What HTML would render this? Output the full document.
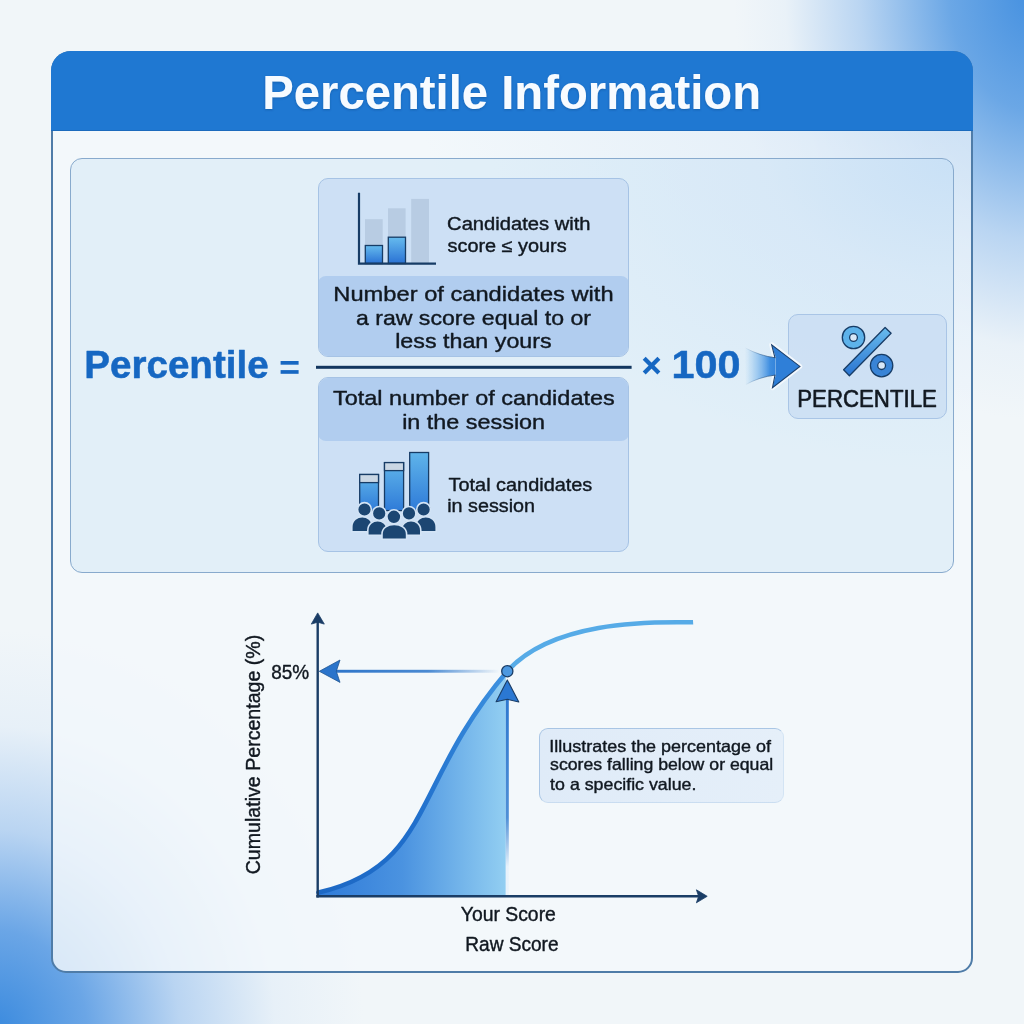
<!DOCTYPE html>
<html>
<head>
<meta charset="utf-8">
<style>
*{margin:0;padding:0;box-sizing:border-box}
html,body{width:1024px;height:1024px;overflow:hidden}
body{
  position:relative;
  font-family:"Liberation Sans",sans-serif;
  color:#121820;
  background:
    radial-gradient(ellipse 300px 430px at 1034px -10px, rgba(68,144,224,1) 0%, rgba(88,156,227,0.88) 28%, rgba(140,186,236,0.55) 58%, rgba(205,225,245,0.22) 83%, rgba(242,246,249,0) 100%),
    radial-gradient(ellipse 370px 400px at -6px 1030px, rgba(58,138,222,1) 0%, rgba(92,157,228,0.9) 25%, rgba(148,190,237,0.6) 50%, rgba(205,225,245,0.28) 76%, rgba(242,246,249,0) 100%),
    #f1f6f9;
}
.abs{position:absolute}
.card{left:51px;top:51px;width:922px;height:922px;border:2px solid #4f7ca8;border-radius:20px 20px 15px 15px;
  background:radial-gradient(ellipse 560px 420px at 100% 0%, rgba(180,210,240,0.55) 0%, rgba(200,222,244,0.3) 45%, rgba(243,248,251,0) 100%), rgba(243,248,251,0.82);overflow:hidden}
.hdr{left:51px;top:51px;width:922px;height:80px;background:#1f78d2;border-radius:20px 20px 0 0;border-bottom:1px solid #1b6bbd}
.title{left:0;top:0;width:100%;height:80px;text-align:center;color:#f7fbff;font-weight:700;font-size:47px;line-height:80px;
  text-shadow:0 1px 2px rgba(0,30,80,0.25)}
.inner{left:70px;top:157.5px;width:884px;height:415px;border:1.6px solid #88aacd;border-radius:12px;background:radial-gradient(ellipse 460px 300px at 100% 0%, rgba(200,224,246,0.95) 0%, rgba(210,229,247,0.6) 40%, rgba(222,237,247,0) 100%), rgba(222,237,247,0.85)}
.colbox{border:1px solid #a6c3e5;border-radius:10px;background:#cde0f5;overflow:hidden}
.band{background:#b1cdef;border-radius:8px}
.t{position:absolute;white-space:nowrap}
</style>
</head>
<body>
<div class="abs card">
  
</div>
<div class="abs hdr"></div>
<div class="abs inner"></div>

<!-- numerator box -->
<div class="abs colbox" style="left:318px;top:178px;width:311px;height:179px">
  <div class="abs band" style="left:-1px;top:97px;width:311px;height:81px"></div>
</div>
<!-- denominator box -->
<div class="abs colbox" style="left:318px;top:377px;width:311px;height:175px">
  <div class="abs band" style="left:-1px;top:-1px;width:311px;height:64px"></div>
</div>


<div class="abs" style="left:788px;top:314px;width:159px;height:105px;border:1px solid #a9c5e6;border-radius:10px;background:rgba(200,220,243,0.75)"></div>
<div class="abs" style="left:539px;top:727.5px;width:245px;height:75px;border:1px solid rgba(150,185,222,0.75);border-right-color:rgba(200,220,240,0.5);border-bottom-color:rgba(185,210,236,0.6);border-radius:9px;background:linear-gradient(90deg,#dfebf8,#e5eff9)"></div>
<svg class="abs" style="left:0;top:0;will-change:transform" width="1024" height="1024" viewBox="0 0 1024 1024">
<defs>
  <filter id="tsh" x="-5%" y="-20%" width="110%" height="150%"><feDropShadow dx="0" dy="1" stdDeviation="1" flood-color="#0a2a5a" flood-opacity="0.3"/></filter>
  <linearGradient id="gBar" x1="0" y1="0" x2="0" y2="1">
    <stop offset="0" stop-color="#66bbee"/><stop offset="1" stop-color="#2a72d4"/>
  </linearGradient>
  <linearGradient id="gBar2" x1="0" y1="0" x2="0" y2="1">
    <stop offset="0" stop-color="#5fb4ea"/><stop offset="1" stop-color="#2f7bd8"/>
  </linearGradient>
  <linearGradient id="gCurve" x1="318" y1="0" x2="507" y2="0" gradientUnits="userSpaceOnUse">
    <stop offset="0" stop-color="#1d68c4"/><stop offset="0.5" stop-color="#1f6ecb"/><stop offset="1" stop-color="#3e92e0"/>
  </linearGradient>
  <linearGradient id="gFill" x1="318" y1="0" x2="507" y2="0" gradientUnits="userSpaceOnUse">
    <stop offset="0" stop-color="#2f7bd9"/><stop offset="0.45" stop-color="#4b93e0"/><stop offset="1" stop-color="#93cff2"/>
  </linearGradient>
  <linearGradient id="gHArrow" x1="320" y1="0" x2="500" y2="0" gradientUnits="userSpaceOnUse">
    <stop offset="0" stop-color="#2a72c8"/><stop offset="0.6" stop-color="#4a8ad2"/><stop offset="1" stop-color="#4a8ad2" stop-opacity="0"/>
  </linearGradient>
  <linearGradient id="gVArrow" x1="0" y1="700" x2="0" y2="896" gradientUnits="userSpaceOnUse">
    <stop offset="0" stop-color="#2f78cf"/><stop offset="0.6" stop-color="#4f8fd6"/><stop offset="0.85" stop-color="#e8f2fb"/>
  </linearGradient>
  <linearGradient id="gBigArrow" x1="745" y1="0" x2="778" y2="0" gradientUnits="userSpaceOnUse">
    <stop offset="0" stop-color="#8cc4f0" stop-opacity="0"/><stop offset="0.35" stop-color="#7ab6ec" stop-opacity="0.6"/><stop offset="0.75" stop-color="#3f8ee0"/><stop offset="1" stop-color="#2f7fd8"/>
  </linearGradient>
  <linearGradient id="gBigArrowEdge" x1="745" y1="0" x2="778" y2="0" gradientUnits="userSpaceOnUse">
    <stop offset="0" stop-color="#1f4a7a" stop-opacity="0"/><stop offset="1" stop-color="#1f4a7a"/>
  </linearGradient>
  <linearGradient id="gSlash" x1="0" y1="330" x2="0" y2="373" gradientUnits="userSpaceOnUse">
    <stop offset="0" stop-color="#66b8ec"/><stop offset="1" stop-color="#2d78d2"/>
  </linearGradient>
</defs>

<!-- top bar chart icon -->
<g>
  <rect x="365" y="219.2" width="17.7" height="44" fill="#b8cce3"/>
  <rect x="388" y="208.3" width="17.6" height="55" fill="#b8cce3"/>
  <rect x="411.2" y="198.9" width="17.8" height="64.5" fill="#b8cce3"/>
  <rect x="365.3" y="245.5" width="17.2" height="18" fill="url(#gBar)" stroke="#173c66" stroke-width="1.3"/>
  <rect x="388.3" y="237.2" width="17.2" height="26.3" fill="url(#gBar)" stroke="#173c66" stroke-width="1.3"/>
  <polyline points="359,192.7 359,263.6 436,263.6" fill="none" stroke="#173c66" stroke-width="2.2"/>
</g>

<!-- bottom bars + people icon -->
<g stroke="#173c66" stroke-width="1.3">
  <rect x="359.7" y="474.5" width="18.8" height="36" fill="url(#gBar2)"/>
  <rect x="359.7" y="474.5" width="18.8" height="8.1" fill="#cad7e4"/>
  <rect x="384.5" y="462.6" width="19.1" height="48" fill="url(#gBar2)"/>
  <rect x="384.5" y="462.6" width="19.1" height="8" fill="#cad7e4"/>
  <rect x="409.7" y="452.5" width="18.9" height="58" fill="url(#gBar2)"/>
</g>
<g fill="#1c4672" stroke="#d3e4f6" stroke-width="1.6">
  <path d="M351.8,531.8 L351.8,527 C351.8,520 357.5,516.6 362.3,516.6 C367.1,516.6 372.6,520 372.6,527 L372.6,531.8 Z"/>
  <circle cx="364.5" cy="509.5" r="6.9"/>
  <path d="M415.4,531.8 L415.4,527 C415.4,520 420.9,516.6 425.7,516.6 C430.5,516.6 436.2,520 436.2,527 L436.2,531.8 Z"/>
  <circle cx="423.6" cy="509.5" r="6.9"/>
  <path d="M367.8,535.2 L367.8,530.5 C367.8,523.8 373,520.6 377.6,520.6 C382.2,520.6 387.4,523.8 387.4,530.5 L387.4,535.2 Z"/>
  <circle cx="379.2" cy="513.4" r="6.9"/>
  <path d="M401.2,535.2 L401.2,530.5 C401.2,523.8 406.4,520.6 411,520.6 C415.6,520.6 420.8,523.8 420.8,530.5 L420.8,535.2 Z"/>
  <circle cx="409" cy="513.4" r="6.9"/>
  <path d="M382,539.2 L382,534 C382,527.5 388,524.5 394.2,524.5 C400.4,524.5 406.6,527.5 406.6,534 L406.6,539.2 Z"/>
  <circle cx="393.9" cy="516.8" r="7.0"/>
</g>

<!-- fraction line -->
<rect x="316" y="365.8" width="315.6" height="3" fill="#12365f"/>

<!-- big arrow -->
<g>
  <path d="M775,357.8 L771.7,344.8 L799.9,366.4 L772.5,387.7 L775,375" fill="none" stroke="#f3f8fd" stroke-width="5" stroke-linejoin="round"/>
  <path d="M744.6,347.6 Q760,356 775.5,357.8 L775.5,375 Q759,377 745.6,384.7 Z" fill="url(#gBigArrow)"/>
  <path d="M744.6,347.6 Q760,356 775.5,357.8 M775.5,375 Q759,377 745.6,384.7" fill="none" stroke="url(#gBigArrowEdge)" stroke-width="0.9"/>
  <path d="M775.8,357.8 L771.7,344.8 L799.9,366.4 L772.5,387.7 L775.8,375 Z" fill="#2f7fd8"/>
  <path d="M775,357.8 L771.7,344.8 L799.9,366.4 L772.5,387.7 L775,375" fill="none" stroke="#1b3f6b" stroke-width="1.1" stroke-linejoin="miter"/>
</g>

<!-- percent icon -->
<g stroke="#173c66" stroke-width="1.3">
  <circle cx="853.5" cy="337.5" r="11.2" fill="#5db2ea"/>
  <circle cx="853.5" cy="337.5" r="3.9" fill="#d8e7f7"/>
  <path d="M843.6,369.7 L885.1,327.5 L891.1,333.3 L849.4,375.7 Z" fill="url(#gSlash)" stroke-linejoin="round"/>
  <circle cx="881.6" cy="365.6" r="11.2" fill="#3984d6"/>
  <circle cx="881.6" cy="365.6" r="3.9" fill="#d8e7f7"/>
</g>

<!-- chart -->
<path d="M318.5,892.6 C433.3,865.8 410.9,784.3 507.3,671.2 L505.8,671.2 L505.8,896 L318,896 Z" fill="url(#gFill)"/>
<rect x="505.8" y="700" width="3" height="196" fill="url(#gVArrow)"/>
<path d="M318.5,892.6 C433.3,865.8 410.9,784.3 507.3,671.2" fill="none" stroke="url(#gCurve)" stroke-width="4.6" stroke-linecap="round"/>
<path d="M507.3,671.2 C557.8,614.3 676.0,623.2 693.1,622.2" fill="none" stroke="#56abe7" stroke-width="4.5"/>
<!-- axes -->
<line x1="317.7" y1="620" x2="317.7" y2="897.5" stroke="#1a3d66" stroke-width="2.4"/>
<path d="M317.7,612.9 L324.3,624.1 L317.7,622.2 L311.3,624.1 Z" fill="#1a3d66" stroke="#1a3d66" stroke-width="0.8" stroke-linejoin="round"/>
<line x1="316.3" y1="896.3" x2="700" y2="896.3" stroke="#1a3d66" stroke-width="2.5"/>
<path d="M707.2,896.3 L696.4,889.8 L698.6,896.3 L696.4,902.8 Z" fill="#1a3d66" stroke="#1a3d66" stroke-width="0.8" stroke-linejoin="round"/>
<!-- horizontal arrow -->
<rect x="334" y="669.8" width="168" height="2.9" fill="url(#gHArrow)"/>
<path d="M319.3,671.3 L340,660 L336.3,671.3 L340,682.4 Z" fill="#2a74cb" stroke="#1f5592" stroke-width="0.8" stroke-linejoin="round"/>
<!-- vertical arrowhead -->
<path d="M507.3,679.9 L518.8,702 L507.3,699.3 L496.1,701.8 Z" fill="#2b78d2" stroke="#1a3d66" stroke-width="1.1" stroke-linejoin="round"/>
<!-- point -->
<circle cx="507.3" cy="671.2" r="5.6" fill="#4c98e0" stroke="#1a3d66" stroke-width="1.3"/>

<path d="M644.2,358.3 L658.9,373 M658.9,358.3 L644.2,373" stroke="#1667c2" stroke-width="4.2" stroke-linecap="butt"/>
<rect x="280.6" y="361" width="18" height="3.7" fill="#1667c2"/>
<rect x="280.6" y="370.1" width="18" height="3.7" fill="#1667c2"/>
<!-- texts -->
<g font-family="Liberation Sans" stroke-width="0.4" stroke-linejoin="round">
<text x="262.19" y="108.7" font-size="48" font-weight="700" fill="#f7fbff" textLength="498.90" lengthAdjust="spacingAndGlyphs" filter="url(#tsh)">Percentile Information</text>
<text x="84.30" y="378.3" font-size="38.5" font-weight="700" fill="#1667c2" textLength="184.34" lengthAdjust="spacingAndGlyphs" stroke="#1667c2" stroke-width="0.5">Percentile</text>
<text x="671.52" y="377.9" font-size="38" font-weight="700" fill="#1667c2" textLength="69.07" lengthAdjust="spacingAndGlyphs" stroke="#1667c2" stroke-width="0.5">100</text>
<text x="447.09" y="230" font-size="18" fill="#111820" stroke="#111820" textLength="143.41" lengthAdjust="spacingAndGlyphs">Candidates with</text>
<text x="447.50" y="251.6" font-size="18" fill="#111820" stroke="#111820" textLength="119.19" lengthAdjust="spacingAndGlyphs">score ≤ yours</text>
<text x="333.36" y="300.8" font-size="21" fill="#111820" stroke="#111820" textLength="280.27" lengthAdjust="spacingAndGlyphs">Number of candidates with</text>
<text x="355.98" y="324.6" font-size="21" fill="#111820" stroke="#111820" textLength="234.98" lengthAdjust="spacingAndGlyphs">a raw score equal to or</text>
<text x="395.17" y="348.4" font-size="21" fill="#111820" stroke="#111820" textLength="156.55" lengthAdjust="spacingAndGlyphs">less than yours</text>
<text x="333.03" y="405.2" font-size="21" fill="#111820" stroke="#111820" textLength="281.72" lengthAdjust="spacingAndGlyphs">Total number of candidates</text>
<text x="402.16" y="428.6" font-size="21" fill="#111820" stroke="#111820" textLength="142.94" lengthAdjust="spacingAndGlyphs">in the session</text>
<text x="448.60" y="490.7" font-size="18.7" fill="#111820" stroke="#111820" textLength="143.72" lengthAdjust="spacingAndGlyphs">Total candidates</text>
<text x="447.22" y="512.2" font-size="18.7" fill="#111820" stroke="#111820" textLength="87.85" lengthAdjust="spacingAndGlyphs">in session</text>
<text x="797.22" y="407" font-size="23" fill="#111820" stroke="#111820" textLength="139.65" lengthAdjust="spacingAndGlyphs" stroke-width="0.6">PERCENTILE</text>
<text x="271.24" y="678.7" font-size="20" fill="#111820" stroke="#111820" textLength="37.94" lengthAdjust="spacingAndGlyphs">85%</text>
<text x="460.81" y="920.9" font-size="19.3" fill="#111820" stroke="#111820" textLength="95.06" lengthAdjust="spacingAndGlyphs">Your Score</text>
<text x="465.27" y="950.7" font-size="19.3" fill="#111820" stroke="#111820" textLength="93.29" lengthAdjust="spacingAndGlyphs">Raw Score</text>
<text x="549.28" y="752" font-size="16.5" fill="#111820" stroke="#111820" textLength="221.71" lengthAdjust="spacingAndGlyphs">Illustrates the percentage of</text>
<text x="550.07" y="770.4" font-size="16.5" fill="#111820" stroke="#111820" textLength="223.14" lengthAdjust="spacingAndGlyphs">scores falling below or equal</text>
<text x="550.12" y="789.5" font-size="16.5" fill="#111820" stroke="#111820" textLength="146.31" lengthAdjust="spacingAndGlyphs">to a specific value.</text>
<text transform="translate(259.7,874.28) rotate(-90)" font-size="20" fill="#111820" stroke="#111820" textLength="239.59" lengthAdjust="spacingAndGlyphs">Cumulative Percentage (%)</text>
</g>
</svg>

</body>
</html>
